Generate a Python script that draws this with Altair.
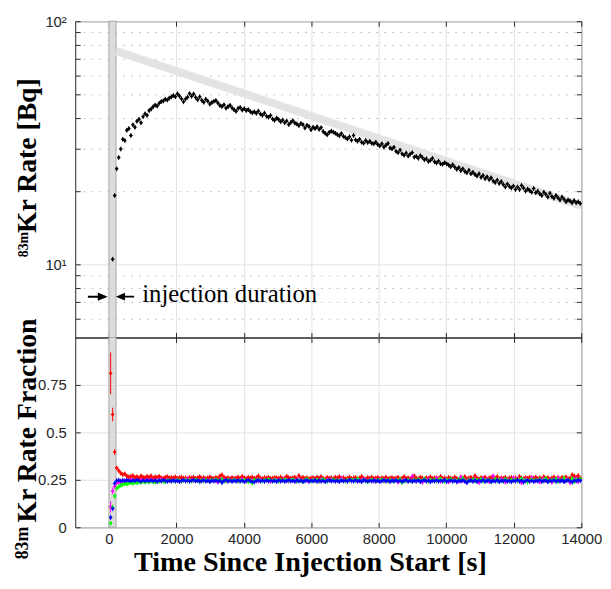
import altair as alt
import pandas as pd

# ---------------- data ----------------
T = list(range(50, 14000, 60))  # measurement times (s), 233 bins

# total 83mKr rate (Bq) for T[1:]; first bin is below the plotted range
RATE = [
    10.5, 19.2, 24.7, 27.5, 29.8, 32.7, 32.3, 35.6, 36.2, 33.9,
    37.5, 36.6, 38.8, 39.5, 38.2, 40.5, 41.6, 41.0, 42.9, 43.5,
    44.5, 45.2, 44.8, 46.0, 46.7, 47.0, 47.8, 47.4, 48.3, 48.8,
    49.5, 48.9, 50.3, 49.2, 48.0, 46.6, 47.9, 48.7, 50.4, 49.1,
    50.2, 48.6, 47.5, 48.9, 47.3, 46.4, 47.8, 46.9, 45.6, 46.3,
    46.8, 47.2, 46.1, 45.0, 44.6, 45.3, 43.9, 44.5, 45.1, 44.0,
    43.2, 42.6, 43.8, 44.2, 43.1, 43.7, 42.9, 43.3, 42.5, 42.0,
    42.4, 41.8, 42.7, 41.5, 41.0, 41.9, 40.7, 40.3, 40.9, 39.6,
    39.1, 40.0, 39.4, 38.6, 39.2, 38.2, 38.9, 37.6, 38.3, 39.0,
    38.1, 37.8, 37.2, 38.0, 37.5, 36.4, 37.3, 36.9, 35.8, 36.6,
    36.2, 36.8, 35.9, 36.5, 35.2, 34.6, 34.1, 34.9, 35.3, 35.0,
    34.6, 34.2, 33.8, 34.5, 33.6, 33.2, 32.8, 33.5, 32.4, 33.9,
    32.5, 32.1, 32.7, 31.8, 31.5, 32.3, 31.7, 32.1, 31.5, 31.3,
    31.8, 31.1, 30.7, 31.3, 30.4, 30.9, 31.4, 30.1, 29.9, 30.3,
    29.2, 28.8, 29.5, 28.5, 28.1, 28.7, 27.9, 28.4, 28.8, 27.6,
    27.8, 27.3, 28.0, 27.5, 26.9, 27.2, 26.5, 26.8, 27.3, 26.4,
    26.1, 26.6, 25.9, 25.8, 26.2, 25.9, 25.6, 25.2, 25.7, 25.1,
    24.6, 25.0, 24.3, 24.7, 24.1, 23.8, 24.4, 23.6, 23.9, 23.4,
    23.1, 23.6, 22.8, 23.2, 22.5, 22.9, 22.3, 22.7, 22.0, 21.7,
    22.2, 21.5, 21.9, 21.3, 20.8, 21.4, 20.9, 20.6, 21.0, 20.3,
    20.8, 20.3, 21.1, 20.6, 20.0, 20.4, 20.1, 19.8, 20.5, 19.7,
    20.0, 19.5, 19.2, 19.8, 19.4, 18.9, 19.6, 19.0, 18.7, 19.2,
    18.8, 18.4, 18.9, 18.5, 18.1, 18.4, 18.2, 17.9, 18.3, 17.9, 18.1, 17.8,
]
RATE_REL_ERR = 0.022

RED = [
    0.811, 0.594, 0.396, 0.312, 0.298, 0.285, 0.278, 0.281, 0.270, 0.265,
    0.268, 0.272, 0.262, 0.266, 0.259, 0.270, 0.264, 0.261, 0.268, 0.263,
    0.270, 0.258, 0.265, 0.262, 0.268, 0.260, 0.257, 0.263, 0.266, 0.259,
    0.262, 0.260, 0.265, 0.257, 0.261, 0.264, 0.258, 0.260, 0.255, 0.262,
    0.259, 0.263, 0.257, 0.260, 0.266, 0.258, 0.261, 0.256, 0.260, 0.264,
    0.259, 0.257, 0.262, 0.258, 0.270, 0.275, 0.262, 0.258, 0.260, 0.256,
    0.261, 0.257, 0.259, 0.263, 0.258, 0.268, 0.260, 0.256, 0.262, 0.259,
    0.264, 0.257, 0.260, 0.270, 0.258, 0.255, 0.261, 0.259, 0.263, 0.256,
    0.258, 0.262, 0.260, 0.257, 0.264, 0.255, 0.259, 0.268, 0.261, 0.257,
    0.260, 0.263, 0.256, 0.272, 0.259, 0.262, 0.257, 0.260, 0.255, 0.258,
    0.261, 0.256, 0.263, 0.259, 0.266, 0.257, 0.254, 0.262, 0.258, 0.260,
    0.255, 0.263, 0.259, 0.266, 0.257, 0.261, 0.254, 0.258, 0.264, 0.256,
    0.260, 0.262, 0.255, 0.259, 0.267, 0.257, 0.253, 0.261, 0.258, 0.264,
    0.256, 0.259, 0.262, 0.254, 0.260, 0.257, 0.263, 0.255, 0.258, 0.261,
    0.256, 0.259, 0.262, 0.253, 0.258, 0.266, 0.257, 0.260, 0.254, 0.262,
    0.270, 0.258, 0.255, 0.263, 0.259, 0.252, 0.261, 0.257, 0.265, 0.256,
    0.259, 0.262, 0.254, 0.268, 0.257, 0.260, 0.253, 0.262, 0.258, 0.255,
    0.264, 0.257, 0.250, 0.261, 0.258, 0.266, 0.254, 0.259, 0.262, 0.256,
    0.271, 0.258, 0.254, 0.261, 0.257, 0.264, 0.252, 0.259, 0.262, 0.255,
    0.258, 0.266, 0.254, 0.260, 0.257, 0.263, 0.251, 0.259, 0.262, 0.256,
    0.260, 0.253, 0.267, 0.258, 0.255, 0.262, 0.257, 0.264, 0.252, 0.259,
    0.263, 0.256, 0.260, 0.254, 0.266, 0.257, 0.261, 0.253, 0.259, 0.264,
    0.256, 0.260, 0.254, 0.262, 0.258, 0.265, 0.255, 0.259, 0.276, 0.270,
    0.262, 0.272, 0.258,
]
MAG = [
    0.108, 0.191, 0.215, 0.235, 0.236, 0.240, 0.244, 0.241, 0.246, 0.243,
    0.250, 0.245, 0.242, 0.248, 0.244, 0.251, 0.246, 0.243, 0.249, 0.245,
    0.252, 0.247, 0.244, 0.250, 0.246, 0.253, 0.248, 0.245, 0.251, 0.247,
    0.243, 0.249, 0.246, 0.252, 0.248, 0.244, 0.250, 0.247, 0.254, 0.246,
    0.249, 0.245, 0.251, 0.247, 0.240, 0.248, 0.253, 0.246, 0.250, 0.244,
    0.248, 0.251, 0.245, 0.238, 0.249, 0.246, 0.252, 0.247, 0.243, 0.250,
    0.246, 0.253, 0.248, 0.244, 0.250, 0.255, 0.247, 0.243, 0.249, 0.246,
    0.251, 0.245, 0.249, 0.243, 0.252, 0.247, 0.244, 0.250, 0.246, 0.241,
    0.248, 0.253, 0.246, 0.250, 0.244, 0.249, 0.255, 0.247, 0.243, 0.251,
    0.246, 0.250, 0.244, 0.257, 0.248, 0.245, 0.251, 0.247, 0.242, 0.249,
    0.252, 0.246, 0.250, 0.243, 0.256, 0.248, 0.245, 0.251, 0.247, 0.253,
    0.249, 0.244, 0.250, 0.246, 0.258, 0.247, 0.243, 0.251, 0.248, 0.245,
    0.252, 0.247, 0.241, 0.250, 0.246, 0.254, 0.248, 0.244, 0.251, 0.247,
    0.243, 0.250, 0.246, 0.253, 0.247, 0.244, 0.251, 0.248, 0.242, 0.250,
    0.246, 0.253, 0.238, 0.249, 0.245, 0.252, 0.247, 0.243, 0.250, 0.268,
    0.248, 0.244, 0.251, 0.246, 0.237, 0.250, 0.247, 0.254, 0.243, 0.249,
    0.245, 0.260, 0.248, 0.242, 0.251, 0.246, 0.253, 0.240, 0.249, 0.245,
    0.252, 0.247, 0.243, 0.265, 0.246, 0.250, 0.239, 0.253, 0.247, 0.244,
    0.251, 0.246, 0.236, 0.249, 0.258, 0.245, 0.252, 0.241, 0.248, 0.270,
    0.246, 0.250, 0.243, 0.256, 0.247, 0.238, 0.252, 0.245, 0.249, 0.261,
    0.244, 0.251, 0.246, 0.235, 0.250, 0.255, 0.247, 0.243, 0.262, 0.248,
    0.245, 0.252, 0.239, 0.249, 0.257, 0.246, 0.243, 0.251, 0.237, 0.254,
    0.247, 0.260, 0.244, 0.250, 0.241, 0.256, 0.247, 0.235, 0.252, 0.245,
    0.258, 0.240, 0.250,
]
GRN = [
    0.021, 0.105, 0.165, 0.205, 0.213, 0.222, 0.226, 0.230, 0.228, 0.233,
    0.236, 0.232, 0.238, 0.235, 0.240, 0.237, 0.242, 0.238, 0.243, 0.240,
    0.244, 0.241, 0.238, 0.245, 0.242, 0.247, 0.243, 0.240, 0.246, 0.249,
    0.244, 0.247, 0.242, 0.250, 0.246, 0.243, 0.248, 0.251, 0.245, 0.249,
    0.244, 0.248, 0.252, 0.246, 0.240, 0.249, 0.245, 0.251, 0.247, 0.243,
    0.250, 0.246, 0.253, 0.248, 0.244, 0.250, 0.247, 0.243, 0.251, 0.248,
    0.245, 0.252, 0.247, 0.243, 0.249, 0.246, 0.251, 0.245, 0.241, 0.248,
    0.233, 0.250, 0.246, 0.252, 0.247, 0.244, 0.250, 0.246, 0.253, 0.248,
    0.244, 0.251, 0.247, 0.243, 0.250, 0.246, 0.252, 0.248, 0.245, 0.249,
    0.253, 0.247, 0.243, 0.250, 0.246, 0.241, 0.249, 0.255, 0.247, 0.244,
    0.250, 0.246, 0.252, 0.243, 0.248, 0.254, 0.246, 0.242, 0.250, 0.247,
    0.253, 0.245, 0.249, 0.244, 0.251, 0.247, 0.243, 0.250, 0.246, 0.252,
    0.248, 0.244, 0.255, 0.247, 0.243, 0.250, 0.246, 0.240, 0.249, 0.252,
    0.246, 0.243, 0.250, 0.247, 0.253, 0.245, 0.249, 0.244, 0.251, 0.247,
    0.243, 0.250, 0.246, 0.254, 0.236, 0.248, 0.245, 0.251, 0.247, 0.242,
    0.250, 0.246, 0.253, 0.244, 0.248, 0.255, 0.247, 0.243, 0.250, 0.246,
    0.252, 0.244, 0.249, 0.256, 0.246, 0.242, 0.251, 0.247, 0.254, 0.245,
    0.249, 0.243, 0.252, 0.246, 0.258, 0.247, 0.241, 0.250, 0.246, 0.253,
    0.244, 0.250, 0.247, 0.255, 0.243, 0.249, 0.246, 0.252, 0.240, 0.248,
    0.254, 0.245, 0.250, 0.247, 0.243, 0.256, 0.248, 0.244, 0.251, 0.246,
    0.252, 0.243, 0.249, 0.257, 0.246, 0.250, 0.238, 0.248, 0.253, 0.245,
    0.250, 0.246, 0.254, 0.243, 0.249, 0.258, 0.247, 0.244, 0.251, 0.246,
    0.255, 0.242, 0.249, 0.247, 0.260, 0.245, 0.250, 0.243, 0.256, 0.240,
    0.252, 0.247, 0.255,
]
BLU = [
    0.052, 0.099, 0.231, 0.245, 0.248, 0.243, 0.246, 0.244, 0.248, 0.245,
    0.242, 0.247, 0.244, 0.249, 0.245, 0.241, 0.247, 0.243, 0.246, 0.244,
    0.248, 0.243, 0.246, 0.241, 0.247, 0.244, 0.249, 0.245, 0.242, 0.247,
    0.244, 0.248, 0.243, 0.246, 0.241, 0.245, 0.249, 0.244, 0.247, 0.242,
    0.246, 0.250, 0.244, 0.247, 0.242, 0.245, 0.249, 0.243, 0.246, 0.241,
    0.247, 0.244, 0.248, 0.243, 0.246, 0.236, 0.245, 0.249, 0.244, 0.247,
    0.242, 0.246, 0.244, 0.248, 0.243, 0.247, 0.241, 0.245, 0.249, 0.244,
    0.240, 0.239, 0.245, 0.249, 0.243, 0.246, 0.242, 0.248, 0.244, 0.247,
    0.243, 0.246, 0.241, 0.248, 0.244, 0.247, 0.242, 0.245, 0.249, 0.244,
    0.246, 0.242, 0.248, 0.244, 0.247, 0.241, 0.245, 0.249, 0.243, 0.246,
    0.244, 0.248, 0.242, 0.246, 0.243, 0.247, 0.241, 0.245, 0.249, 0.244,
    0.247, 0.243, 0.246, 0.241, 0.248, 0.244, 0.247, 0.242, 0.250, 0.245,
    0.243, 0.248, 0.244, 0.246, 0.240, 0.249, 0.245, 0.242, 0.247, 0.244,
    0.248, 0.243, 0.246, 0.241, 0.245, 0.249, 0.244, 0.247, 0.242, 0.246,
    0.244, 0.248, 0.243, 0.246, 0.240, 0.245, 0.249, 0.243, 0.247, 0.242,
    0.246, 0.244, 0.248, 0.241, 0.245, 0.249, 0.243, 0.247, 0.240, 0.246,
    0.244, 0.248, 0.242, 0.246, 0.243, 0.249, 0.241, 0.245, 0.248, 0.243,
    0.247, 0.240, 0.246, 0.244, 0.249, 0.242, 0.236, 0.245, 0.248, 0.243,
    0.247, 0.241, 0.246, 0.244, 0.249, 0.242, 0.245, 0.248, 0.240, 0.246,
    0.243, 0.249, 0.241, 0.246, 0.244, 0.248, 0.242, 0.245, 0.240, 0.247,
    0.244, 0.249, 0.242, 0.246, 0.238, 0.245, 0.248, 0.243, 0.247, 0.241,
    0.246, 0.244, 0.249, 0.242, 0.245, 0.248, 0.240, 0.246, 0.243, 0.249,
    0.242, 0.246, 0.244, 0.248, 0.241, 0.245, 0.249, 0.243, 0.238, 0.247,
    0.244, 0.249, 0.246,
]
EARLY_ERR = {
    "red": [0.110, 0.036, 0.016, 0.012],
    "magenta": [0.030, 0.018, 0.014],
    "green": [0.012, 0.014, 0.014],
    "blue": [0.014, 0.014],
}
PLATEAU_ERR = 0.013

SERIES = ["red", "magenta", "green", "blue"]
SERIES_COLORS = ["#ff0000", "#ff00ff", "#00ff00", "#0000ff"]

INJECTION = [0, 210]
DECAY_T = [210, 14000]
DECAY_R = [75.5, 17.4]

X_TICKS = [0, 2000, 4000, 6000, 8000, 10000, 12000, 14000]
Y_TICKS_TOP = [6, 7, 8, 9, 10, 20, 30, 40, 50, 60, 70, 80, 90, 100]
Y_TICKS_BOT = [0, 0.25, 0.5, 0.75]

# ---------------- frames ----------------
top_df = pd.DataFrame({"t": T[1:], "rate": RATE})
top_df["lo"] = top_df["rate"] * (1 - RATE_REL_ERR)
top_df["hi"] = top_df["rate"] * (1 + RATE_REL_ERR)

rows = []
for name, vals in zip(SERIES, [RED, MAG, GRN, BLU]):
    early = EARLY_ERR[name]
    for i, (t, v) in enumerate(zip(T, vals)):
        e = early[i] if i < len(early) else PLATEAU_ERR
        rows.append({"t": t, "f": v, "lo": v - e, "hi": v + e, "s": name})
frac_df = pd.DataFrame(rows)

band_df = pd.DataFrame({"x0": [INJECTION[0]], "x1": [INJECTION[1]]})
decay_df = pd.DataFrame({"t": DECAY_T, "r": DECAY_R})

# ---------------- styling ----------------
W, H1, H2 = 512, 320, 192
DARK = "#262626"
SERIF = "Liberation Serif"
SANS = "Liberation Sans"

xs = alt.Scale(domain=[-1000, 14000], nice=False, zero=False)
ys1 = alt.Scale(type="log", domain=[5, 100], nice=False)
ys2 = alt.Scale(domain=[0, 1], nice=False, zero=False)
cs = alt.Scale(domain=SERIES, range=SERIES_COLORS)


def ax(orient, values, **kw):
    base = dict(orient=orient, values=values, offset=-5, tickSize=5, tickColor=DARK,
                tickWidth=1, domain=False, labels=False, grid=False, title=None,
                labelFlush=False)
    base.update(kw)
    return alt.Axis(**base)


# ---------------- top panel ----------------
band1 = alt.Chart(band_df).mark_rect(fill="#dcdcdc", stroke="#a8a8a8", strokeWidth=1).encode(
    x=alt.X("x0:Q", scale=xs, axis=ax("bottom", X_TICKS, grid=True, gridColor="#e3e3e3")),
    x2="x1:Q",
    y=alt.value(0),
    y2=alt.value(H1),
)
decay = alt.Chart(decay_df).mark_line(color="#e3e3e3", strokeWidth=8, strokeCap="butt").encode(
    x=alt.X("t:Q", scale=xs, axis=ax("top", X_TICKS)),
    y=alt.Y("r:Q", scale=ys1, axis=ax(
        "left", Y_TICKS_TOP, labels=True, grid=True, labelPadding=9,
        labelExpr="datum.value == 10 ? '10\u00b9' : (datum.value == 100 ? '10\u00b2' : '')",
        gridDash=alt.condition("datum.value == 10 || datum.value == 100", alt.value([]), alt.value([2, 6])),
        gridColor=alt.condition("datum.value == 10 || datum.value == 100", alt.value("#e3e3e3"), alt.value("#c4c4c4")),
    )),
)
err1 = alt.Chart(top_df).mark_rule(color="black", strokeWidth=1).encode(
    x=alt.X("t:Q", scale=xs, axis=None),
    y=alt.Y("lo:Q", scale=ys1, axis=ax("right", Y_TICKS_TOP)),
    y2="hi:Q",
)
pts1 = alt.Chart(top_df).mark_point(shape="diamond", filled=True, size=16, color="black", opacity=1).encode(
    x=alt.X("t:Q", scale=xs, axis=None),
    y=alt.Y("rate:Q", scale=ys1, axis=None),
)

RIGHT_ARROW = "M -1 -0.1 L 0 -0.1 L 0 -0.42 L 1 0 L 0 0.42 L 0 0.1 L -1 0.1 Z"
LEFT_ARROW = "M 1 -0.1 L 0 -0.1 L 0 -0.42 L -1 0 L 0 0.42 L 0 0.1 L 1 0.1 Z"
arrow_l = alt.Chart(pd.DataFrame({"t": [-331], "r": [7.36]})).mark_point(
    shape=RIGHT_ARROW, filled=True, size=400, color="black", opacity=1, strokeWidth=0
).encode(x=alt.X("t:Q", scale=xs, axis=None), y=alt.Y("r:Q", scale=ys1, axis=None))
arrow_r = alt.Chart(pd.DataFrame({"t": [475], "r": [7.36]})).mark_point(
    shape=LEFT_ARROW, filled=True, size=340, color="black", opacity=1, strokeWidth=0
).encode(x=alt.X("t:Q", scale=xs, axis=None), y=alt.Y("r:Q", scale=ys1, axis=None))
note = alt.Chart(pd.DataFrame({"t": [987], "r": [7.03], "s": ["injection duration"]})).mark_text(
    align="left", baseline="alphabetic", font=SERIF, fontSize=25, color="black"
).encode(x=alt.X("t:Q", scale=xs, axis=None), y=alt.Y("r:Q", scale=ys1, axis=None), text="s:N")

ytitle1 = alt.Chart(pd.DataFrame({"s": ["Kr Rate [Bq]"]})).mark_text(
    angle=270, align="center", baseline="alphabetic", font=SERIF, fontSize=28, fontWeight="bold", color="black"
).encode(x=alt.value(-40), y=alt.value(136), text="s:N")
ysup1 = alt.Chart(pd.DataFrame({"s": ["83m"]})).mark_text(
    angle=270, align="center", baseline="alphabetic", font=SERIF, fontSize=14, fontWeight="bold", color="black"
).encode(x=alt.value(-48), y=alt.value(226), text="s:N")

top = alt.layer(band1, decay, err1, pts1, arrow_l, arrow_r, note, ytitle1, ysup1).resolve_axis(
    x="independent", y="independent"
).properties(width=W, height=H1)

# ---------------- bottom panel ----------------
band2 = alt.Chart(band_df).mark_rect(fill="#dcdcdc", stroke="#a8a8a8", strokeWidth=1).encode(
    x=alt.X("x0:Q", scale=xs, axis=ax("bottom", X_TICKS, labels=True, grid=True, gridColor="#e3e3e3",
                                      labelPadding=4, labelExpr="'' + datum.value")),
    x2="x1:Q",
    y=alt.value(0),
    y2=alt.value(H2),
)
err2 = alt.Chart(frac_df).mark_rule(strokeWidth=1).encode(
    x=alt.X("t:Q", scale=xs, axis=ax("top", X_TICKS)),
    y=alt.Y("lo:Q", scale=ys2, axis=ax("left", Y_TICKS_BOT, labels=True, grid=True, gridColor="#e3e3e3",
                                       labelPadding=9, labelExpr="'' + datum.value")),
    y2="hi:Q",
    color=alt.Color("s:N", scale=cs, legend=None),
)
pts2 = alt.Chart(frac_df).mark_point(shape="diamond", filled=True, size=16, opacity=1).encode(
    x=alt.X("t:Q", scale=xs, axis=None),
    y=alt.Y("f:Q", scale=ys2, axis=ax("right", Y_TICKS_BOT)),
    color=alt.Color("s:N", scale=cs, legend=None),
)
ytitle2 = alt.Chart(pd.DataFrame({"s": ["Kr Rate Fraction"]})).mark_text(
    angle=270, align="center", baseline="alphabetic", font=SERIF, fontSize=28, fontWeight="bold", color="black"
).encode(x=alt.value(-40), y=alt.value(84), text="s:N")
ysup2 = alt.Chart(pd.DataFrame({"s": ["83m"]})).mark_text(
    angle=270, align="center", baseline="alphabetic", font=SERIF, fontSize=18, fontWeight="bold", color="black"
).encode(x=alt.value(-48), y=alt.value(208), text="s:N")
xtitle = alt.Chart(pd.DataFrame({"s": ["Time Since Injection Start [s]"]})).mark_text(
    align="center", baseline="alphabetic", font=SERIF, fontSize=28.5, fontWeight="bold", color="black"
).encode(x=alt.value(238), y=alt.value(236), text="s:N")

bottom = alt.layer(band2, err2, pts2, ytitle2, ysup2, xtitle).resolve_axis(
    x="independent", y="independent"
).properties(width=W, height=H2)

chart = alt.vconcat(top, bottom, spacing=0, bounds="flush").configure_view(
    stroke=DARK, strokeWidth=1
).configure_axis(
    labelFont=SANS, labelFontSize=15, labelColor=DARK
).properties(padding={"left": 5, "top": 2, "right": 0, "bottom": 0}, background="white")

chart.save("out.html", embed_options={"renderer": "svg", "actions": False})
